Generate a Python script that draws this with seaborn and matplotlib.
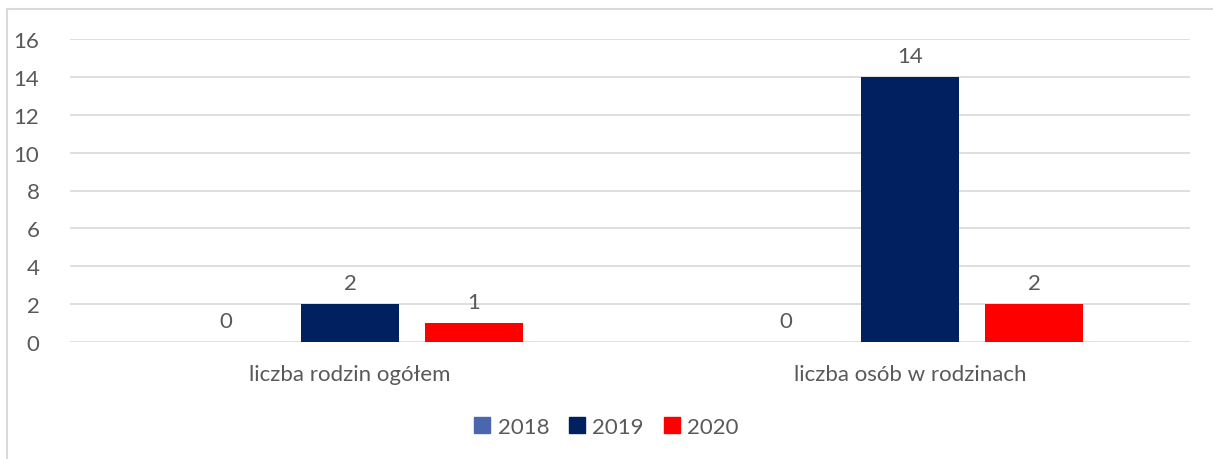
import matplotlib.pyplot as plt
import pandas as pd
import seaborn as sns
from matplotlib.lines import Line2D

CATEGORIES = ["liczba rodzin ogółem", "liczba osób w rodzinach"]
YEARS = ["2018", "2019", "2020"]
VALUES_2018 = [0, 0]
VALUES_2019 = [2, 14]
VALUES_2020 = [1, 2]
COLORS = ["#4A67AD", "#002060", "#FF0000"]
Y_TICKS = [0, 2, 4, 6, 8, 10, 12, 14, 16]

TEXT_COLOR = "#595959"
GRID_COLOR = "#D9D9D9"
FONT_SIZE = 16


def build_frame() -> pd.DataFrame:
    rows = []
    for year, values in zip(YEARS, [VALUES_2018, VALUES_2019, VALUES_2020]):
        for cat, val in zip(CATEGORIES, values):
            rows.append({"kategoria": cat, "rok": year, "wartość": val})
    return pd.DataFrame(rows)


def main() -> None:
    sns.set_style("white")
    plt.rcParams["font.family"] = ["Lato", "DejaVu Sans"]

    df = build_frame()

    fig = plt.figure(figsize=(12.13, 4.6), dpi=100)
    ax = fig.add_axes([70 / 1213, 1 - 343 / 460, 1120 / 1213, 303 / 460])

    sns.barplot(
        data=df, x="kategoria", y="wartość", hue="rok",
        hue_order=YEARS, palette=COLORS, width=0.664, gap=0.21,
        ax=ax, legend=False, saturation=1, linewidth=0,
    )

    for container in ax.containers:
        ax.bar_label(container, fmt="%g", padding=8, fontsize=FONT_SIZE, color=TEXT_COLOR)

    ax.set_ylim(0, 16)
    ax.set_yticks(Y_TICKS)
    ax.set_xlim(-0.5, 1.5)
    ax.set_xlabel("")
    ax.set_ylabel("")
    ax.yaxis.grid(True, color=GRID_COLOR, linewidth=1.2)
    ax.set_axisbelow(True)
    for spine in ax.spines.values():
        spine.set_visible(False)
    ax.tick_params(axis="both", length=0, labelsize=FONT_SIZE, labelcolor=TEXT_COLOR)
    ax.tick_params(axis="y", pad=22)
    ax.tick_params(axis="x", pad=16)

    handles = [plt.Rectangle((0, 0), 1, 1, color=c) for c in COLORS]
    fig.legend(
        handles, YEARS, loc="center", bbox_to_anchor=(0.5, 1 - 428 / 460),
        ncol=3, frameon=False, fontsize=FONT_SIZE, handlelength=0.7, handleheight=0.7,
        handletextpad=0.35, columnspacing=0.9, labelcolor=TEXT_COLOR,
    )

    # ramka wykresu (przycięta z prawej i od dołu)
    fig.add_artist(Line2D([7 / 1213, 1.0], [1 - 10 / 460, 1 - 10 / 460],
                          color=GRID_COLOR, linewidth=1.5, transform=fig.transFigure))
    fig.add_artist(Line2D([7 / 1213, 7 / 1213], [0.0, 1 - 10 / 460],
                          color=GRID_COLOR, linewidth=1.5, transform=fig.transFigure))

    fig.savefig("out.png", dpi=100)
    plt.close(fig)


if __name__ == "__main__":
    main()
